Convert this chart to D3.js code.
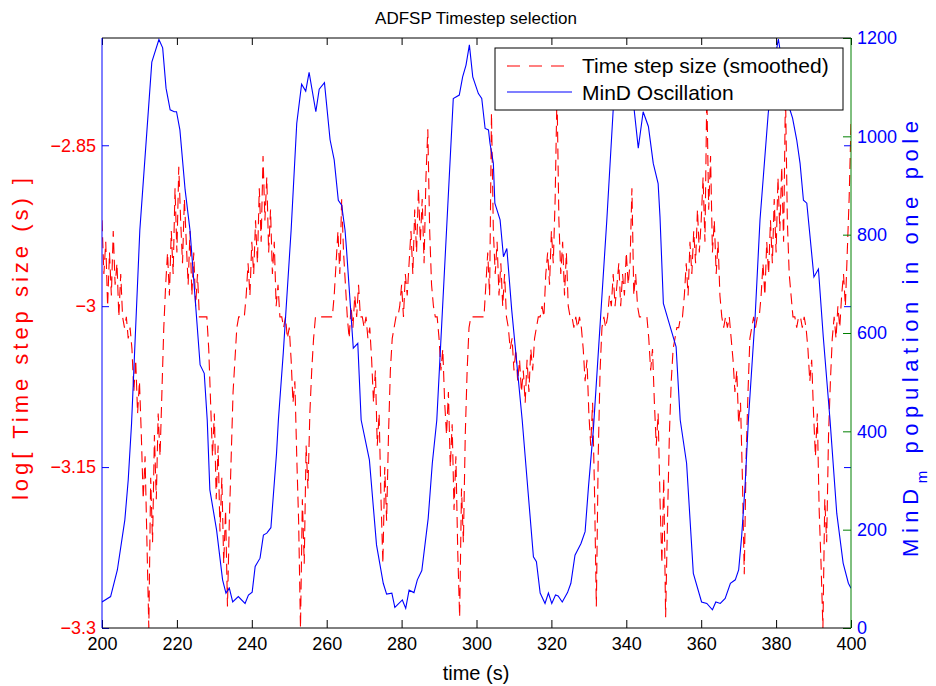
<!DOCTYPE html>
<html>
<head>
<meta charset="utf-8">
<script src="https://cdn.jsdelivr.net/npm/d3@7/dist/d3.min.js"></script>
<style>
  body { margin: 0; background: #fff; }
  text { font-family: "Liberation Sans", Arial, Helvetica, sans-serif; }
</style>
</head>
<body>
<svg id="chart" width="936" height="686"></svg>
<script>
// ---- data ----
var xTicks = [200, 220, 240, 260, 280, 300, 320, 340, 360, 380, 400];
var leftTicks = [-3.3, -3.15, -3, -2.85];
var leftTickLabels = ["\u22123.3", "\u22123.15", "\u22123", "\u22122.85"];
var rightTicks = [0, 200, 400, 600, 800, 1000, 1200];

// MinD_m population (time s, molecules)
var minD = [[200,53],[202.3,64],[204.1,118],[206.1,220],[207.0,301],[207.9,417],[210.1,809],[213.3,1151],
  [215.2,1197],[216.2,1180],[217.1,1098],[218.2,1054],[219.3,1050],[219.9,1050],[220.8,1013],[222.2,891],
  [223.5,809],[226.2,535],[227.3,518],[228.1,423],[228.8,281],[230.6,199],[232.2,98],[233.1,71],[234.0,81],
  [234.9,53],[236.4,64],[238.2,50],[239.1,67],[240.1,73],[240.9,125],[242.2,142],[243.1,189],[244.0,193],
  [245.1,204],[246.6,355],[247.1,423],[248.4,559],[250.5,809],[252.0,1026],[253.3,1106],[254.4,1092],
  [255.3,1130],[257.1,1050],[258.0,1096],[259.4,1109],[260.9,993],[262.0,952],[263.1,870],[264.0,860],
  [264.9,809],[265.3,769],[267.1,569],[268.3,579],[269.2,423],[271.4,342],[273.3,169],[275.1,91],[276.0,69],
  [277.4,71],[278.2,42],[280.2,57],[281.1,40],[282.0,77],[283.3,72],[284.2,98],[285.4,117],[287.1,223],
  [288.2,335],[289.4,423],[292.0,809],[293.8,1077],[295.4,1084],[296.3,1121],[297.2,1145],[298.1,1186],
  [299.0,1121],[300.5,1087],[301.4,1077],[302.3,1016],[303.2,1013],[303.6,986],[304.5,945],[304.9,864],
  [306.3,830],[307.2,755],[308.1,772],[309.4,647],[312.2,423],[313.8,274],[315.2,145],[316.0,135],[317.0,71],
  [318.3,50],[319.2,71],[320.1,50],[321.1,67],[321.8,65],[322.9,53],[324.3,72],[325.2,91],[326.3,148],
  [327.9,172],[329.0,196],[329.9,287],[331.2,403],[334.8,830],[336.5,1054],[338.0,1120],[339.5,1150],
  [341.0,1120],[342.1,1054],[343.2,976],[344.5,1050],[345.9,1020],[347.2,945],[348.5,904],[349.0,836],
  [349.9,660],[351.2,626],[353.3,572],[354.4,423],[356.1,335],[357.9,111],[360.1,53],[361.5,50],[363.0,37],
  [363.9,53],[365.1,50],[366.4,60],[367.8,91],[369.1,98],[370.0,118],[370.8,186],[371.7,287],[372.6,423],
  [374.4,633],[375.7,830],[377.9,1047],[379.3,1140],[380.6,1198],[382.2,1120],[383.7,1054],[384.4,1037],
  [385.5,993],[386.4,945],[387.3,870],[388.2,864],[388.9,809],[390.1,714],[391.3,730],[392.6,592],
  [394.4,423],[396.2,233],[397.9,132],[399.3,91],[400,81]];

// log10 time step, sampled every 0.5 s; each block = [start time, values]
var stepDt = 0.5;
var stepBlocks = [
  [200, [-2.92,-2.97,-2.94,-3.0,-2.95,-2.99,-2.93,-2.98,-2.96,-3.01,-2.97]],
  [205.5, [-3.01,-3.02,-3.01,-3.03,-3.02]],
  [208, [-3.04,-3.08,-3.05,-3.1,-3.07]],
  [210.5, [-3.12,-3.18,-3.14,-3.22,-3.3]],
  [213, [-3.16,-3.22,-3.12,-3.18,-3.1,-3.14,-3.08]],
  [216.5, [-3.02,-2.98,-2.95,-2.99,-2.93,-2.97]],
  [219.5, [-2.89,-2.95,-2.87,-2.92,-2.96,-2.9,-2.94,-2.98]],
  [223.5, [-2.93,-2.99,-2.95,-3.0,-2.97,-3.01]],
  [226.5, [-3.01,-3.01,-3.01,-3.01,-3.04,-3.09]],
  [229.5, [-3.14,-3.1,-3.18,-3.13,-3.21,-3.16,-3.24,-3.19,-3.28,-3.2]],
  [234.5, [-3.14,-3.08,-3.05,-3.02,-3.01,-3.01]],
  [237.5, [-3.01,-3.01,-2.99,-2.96,-2.99,-2.94]],
  [240.5, [-2.97,-2.92,-2.96,-2.89,-2.94,-2.86,-2.92,-2.88,-2.95,-2.91]],
  [245.5, [-2.97,-2.94,-3.0,-2.98,-3.01,-3.01]],
  [248.5, [-3.02,-3.01,-3.03,-3.02]],
  [250.5, [-3.05,-3.09,-3.07,-3.14,-3.2,-3.3,-3.18,-3.24,-3.13,-3.17]],
  [255.5, [-3.1,-3.06,-3.03,-3.01,-3.01,-3.01]],
  [258.5, [-3.01,-3.01,-3.01,-3.01,-3.01,-3.01,-3.01]],
  [262, [-2.99,-2.96,-2.93,-2.97,-2.9,-2.95,-2.98]],
  [265.5, [-3.01,-3.03,-3.0,-3.02,-2.99,-3.01,-2.98,-3.01]],
  [269.5, [-3.01,-3.02,-3.01,-3.03,-3.02]],
  [272, [-3.05,-3.09,-3.06,-3.13,-3.1,-3.18,-3.24,-3.15,-3.2,-3.12]],
  [277, [-3.06,-3.03,-3.02,-3.01,-3.01]],
  [279.5, [-3.0,-2.98,-3.01,-2.97,-2.99,-2.96]],
  [282.5, [-2.93,-2.97,-2.91,-2.95,-2.89,-2.94,-2.9,-2.96,-2.88,-2.835,-2.93]],
  [288, [-2.98,-3.0,-3.01,-3.01]],
  [290, [-3.03,-3.06,-3.04,-3.09,-3.12,-3.08,-3.15,-3.11,-3.19,-3.14,-3.23,-3.29,-3.17]],
  [296.5, [-3.22,-3.12,-3.06,-3.02,-3.01]],
  [299, [-3.01,-3.01,-3.01,-3.01,-3.01,-3.01,-3.01]],
  [302.5, [-2.98,-2.95,-2.99,-2.82,-2.93,-2.97]],
  [305.5, [-2.94,-2.99,-2.96,-3.0,-2.97,-3.01]],
  [308.5, [-3.02,-3.04,-3.03,-3.06,-3.04,-3.07,-3.05,-3.08,-3.06,-3.09,-3.05,-3.08,-3.04,-3.06]],
  [315.5, [-3.03,-3.02,-3.01,-3.01,-3.0,-3.01]],
  [318.5, [-2.97,-2.95,-2.98,-2.93,-2.96,-2.9,-2.8,-2.92]],
  [322.5, [-2.97,-2.94,-2.99,-2.95,-3.0,-3.01]],
  [325.5, [-3.01,-3.02,-3.01,-3.02,-3.01,-3.02]],
  [328.5, [-3.04,-3.07,-3.05,-3.1,-3.13,-3.09,-3.17,-3.28,-3.14,-3.06]],
  [333.5, [-3.02,-3.01,-3.02,-3.01]],
  [335.5, [-2.99,-3.0,-2.97,-3.0,-2.98,-2.96,-3.0,-2.97,-2.99,-2.95,-2.98,-2.96,-2.89,-2.99,-2.97,-3.0]],
  [343.5, [-3.01,-3.01,-3.01,-3.01,-3.01]],
  [346, [-3.03,-3.06,-3.04,-3.09,-3.13,-3.1,-3.18,-3.24,-3.16,-3.29,-3.2]],
  [351.5, [-3.12,-3.07,-3.04,-3.03,-3.02,-3.02,-3.01,-3.01]],
  [355.5, [-2.99,-2.96,-2.99,-2.94,-2.97,-2.93,-2.96,-2.91,-2.95,-2.92]],
  [360.5, [-2.88,-2.94,-2.8,-2.91,-2.86,-2.95]],
  [363.5, [-2.92,-2.97,-2.94,-2.99]],
  [365.5, [-3.01,-3.02,-3.01,-3.02,-3.01,-3.03]],
  [368.5, [-3.05,-3.08,-3.06,-3.11,-3.09,-3.16,-3.25,-3.14,-3.08]],
  [373, [-3.03,-3.02,-3.01,-3.02,-3.01,-3.01]],
  [376, [-2.99,-2.96,-2.99,-2.94,-2.97,-2.92,-2.96,-2.9,-2.95,-2.88,-2.93,-2.87,-2.94,-2.8,-2.92,-2.97,-2.99]],
  [384.5, [-3.01,-3.01,-3.02,-3.01,-3.01,-3.02,-3.01,-3.02]],
  [388.5, [-3.04,-3.07,-3.05,-3.1,-3.14,-3.1,-3.19,-3.24,-3.3,-3.18,-3.22,-3.12,-3.07,-3.03]],
  [395.5, [-3.01,-3.03,-3.0,-3.02,-2.99,-2.97,-3.0,-2.95,-2.9,-2.83]]
];

var steps = [];
stepBlocks.forEach(function(b) {
  b[1].forEach(function(v, i) { steps.push([b[0] + i * stepDt, v]); });
});

// ---- layout ----
var svg = d3.select("#chart");
var pl = 102, pr = 851, pt = 38, pb = 628;

var x = d3.scaleLinear().domain([200, 400]).range([pl, pr]);
var yL = d3.scaleLinear().domain([-3.3, -2.75]).range([pb, pt]);
var yR = d3.scaleLinear().domain([0, 1200]).range([pb, pt]);

svg.append("defs").append("clipPath").attr("id", "plot")
  .append("rect").attr("x", pl).attr("y", pt)
  .attr("width", pr - pl).attr("height", pb - pt);

var lineL = d3.line().x(function(d) { return x(d[0]); }).y(function(d) { return yL(d[1]); });
var lineR = d3.line().x(function(d) { return x(d[0]); }).y(function(d) { return yR(d[1]); });

var plot = svg.append("g").attr("clip-path", "url(#plot)");
plot.append("path").datum(steps)
  .attr("d", lineL).attr("fill", "none")
  .attr("stroke", "#ff0000").attr("stroke-width", 1.1)
  .attr("stroke-dasharray", "11,6");
plot.append("path").datum(minD)
  .attr("d", lineR).attr("fill", "none")
  .attr("stroke", "#0000ff").attr("stroke-width", 1.1);

// ---- axes ----
function style(g, color, labelColor) {
  g.selectAll(".domain").remove();
  g.selectAll(".tick line").attr("stroke", color);
  g.selectAll(".tick text").attr("fill", labelColor).style("font-size", "18px");
}

var gBottom = svg.append("g").attr("transform", "translate(0," + pb + ")")
  .call(d3.axisBottom(x).tickValues(xTicks).tickSize(-8).tickPadding(9).tickFormat(d3.format("d")));
style(gBottom, "#000", "#000");

var gTop = svg.append("g").attr("transform", "translate(0," + pt + ")")
  .call(d3.axisTop(x).tickValues(xTicks).tickSize(-7).tickFormat(""));
style(gTop, "#000", "#000");

var gLeft = svg.append("g").attr("transform", "translate(" + pl + ",0)")
  .call(d3.axisLeft(yL).tickValues(leftTicks).tickSize(-7).tickPadding(6)
    .tickFormat(function(d, i) { return leftTickLabels[i]; }));
style(gLeft, "#0000ff", "#ff0000");

var gRightL = svg.append("g").attr("transform", "translate(" + pr + ",0)")
  .call(d3.axisRight(yL).tickValues(leftTicks).tickSize(-7).tickFormat(""));
style(gRightL, "#0000ff", "#0000ff");

var gRight = svg.append("g").attr("transform", "translate(" + pr + ",0)")
  .call(d3.axisRight(yR).tickValues(rightTicks).tickSize(-8).tickPadding(6).tickFormat(d3.format("d")));
style(gRight, "#008000", "#0000ff");

// spines
svg.append("line").attr("x1", pl).attr("x2", pr).attr("y1", pt).attr("y2", pt).attr("stroke", "#000");
svg.append("line").attr("x1", pl).attr("x2", pr).attr("y1", pb).attr("y2", pb).attr("stroke", "#000");
svg.append("line").attr("x1", pl).attr("x2", pl).attr("y1", pt).attr("y2", pb).attr("stroke", "#0000ff");
svg.append("line").attr("x1", pr).attr("x2", pr).attr("y1", pt).attr("y2", pb).attr("stroke", "#008000");

// ---- labels ----
svg.append("text").attr("x", 476).attr("y", 24).attr("text-anchor", "middle")
  .style("font-size", "17px").text("ADFSP Timestep selection");
svg.append("text").attr("x", 476).attr("y", 680).attr("text-anchor", "middle")
  .style("font-size", "20px").text("time (s)");
svg.append("text").attr("transform", "translate(28,339) rotate(-90)").attr("text-anchor", "middle")
  .attr("fill", "#ff0000").style("font-size", "22px")
  .attr("textLength", 322).attr("lengthAdjust", "spacing")
  .text("log[ Time step size (s) ]");

var rl = svg.append("text").attr("transform", "translate(918,339) rotate(-90)").attr("text-anchor", "middle")
  .attr("fill", "#0000ff").style("font-size", "22px")
  .attr("textLength", 436).attr("lengthAdjust", "spacing");
rl.append("tspan").text("MinD");
rl.append("tspan").attr("baseline-shift", "sub").style("font-size", "15px").text("m");
rl.append("tspan").text(" population in one pole");

// ---- legend ----
var lg = svg.append("g");
lg.append("rect").attr("x", 495).attr("y", 48).attr("width", 348).attr("height", 62)
  .attr("fill", "#fff").attr("stroke", "#000");
lg.append("line").attr("x1", 507).attr("x2", 572).attr("y1", 66).attr("y2", 66)
  .attr("stroke", "#ff0000").attr("stroke-dasharray", "13,9").attr("stroke-width", 1.1);
lg.append("line").attr("x1", 507).attr("x2", 572).attr("y1", 92).attr("y2", 92)
  .attr("stroke", "#0000ff").attr("stroke-width", 1.1);
lg.append("text").attr("x", 582).attr("y", 73).style("font-size", "21px").text("Time step size (smoothed)");
lg.append("text").attr("x", 582).attr("y", 100).style("font-size", "21px").text("MinD Oscillation");
</script>
</body>
</html>
